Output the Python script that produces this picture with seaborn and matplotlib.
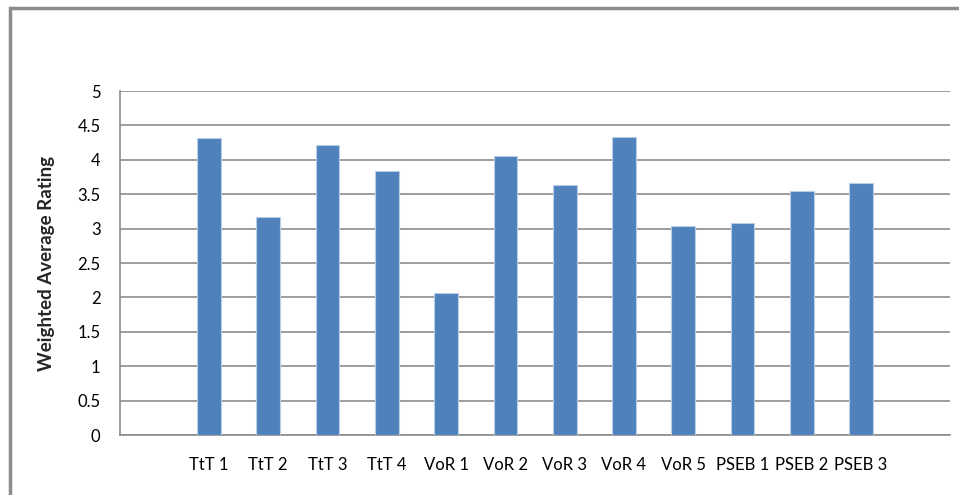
import numpy as np
import pandas as pd
import matplotlib
matplotlib.use("Agg")
import matplotlib.pyplot as plt
import seaborn as sns

# ── Data ──────────────────────────────────────────────────────────────────────
items = ["TtT 1", "TtT 2", "TtT 3", "TtT 4", "VoR 1", "VoR 2", "VoR 3",
         "VoR 4", "VoR 5", "PSEB 1", "PSEB 2", "PSEB 3"]
ratings = [4.31, 3.17, 4.22, 3.84, 2.06, 4.06, 3.64, 4.33, 3.04, 3.08, 3.54, 3.66]
y_ticks = [0, 0.5, 1, 1.5, 2, 2.5, 3, 3.5, 4, 4.5, 5]
y_tick_labels = ["0", "0.5", "1", "1.5", "2", "2.5", "3", "3.5", "4", "4.5", "5"]

df = pd.DataFrame({"item": items, "rating": ratings})

# ── Style ─────────────────────────────────────────────────────────────────────
sns.set_theme(style="white")
plt.rcParams["font.family"] = ["Lato", "DejaVu Sans"]

fig = plt.figure(figsize=(9.59, 4.95), dpi=100)
ax = fig.add_axes([120 / 959, 1 - 435 / 495, 830 / 959, 344 / 495])

sns.barplot(data=df, x="item", y="rating", color="#4F81BD", width=0.4,
            edgecolor="#B9CDE5", linewidth=0.8, saturation=1, ax=ax, zorder=3)

ax.set_xlim(-1.5, len(items) + 0.5)
ax.set_ylim(0, 5)
ax.set_yticks(y_ticks)
ax.set_yticklabels(y_tick_labels)
ax.yaxis.grid(True, color="#8C8C8C", linewidth=1.2, zorder=0)
ax.xaxis.grid(False)
ax.tick_params(axis="y", length=0, pad=14, labelsize=12, colors="#000000")
ax.tick_params(axis="x", length=0, pad=16, labelsize=12, colors="#000000")
ax.set_xlabel("")
ax.set_ylabel("Weighted Average Rating", fontsize=13.5, fontweight="bold",
              labelpad=16)

for side in ["top", "right"]:
    ax.spines[side].set_visible(False)
for side in ["left", "bottom"]:
    ax.spines[side].set_color("#8C8C8C")
    ax.spines[side].set_linewidth(1.2)

# outer chart border (cut off at right and bottom like the screenshot)
fig.patches.append(plt.Rectangle((10 / 959, -0.1), 1.1, 1.1 - 8 / 495,
                                 transform=fig.transFigure, fill=False,
                                 edgecolor="#8C8C8C", linewidth=2.5))

fig.savefig("out.png", dpi=100)
